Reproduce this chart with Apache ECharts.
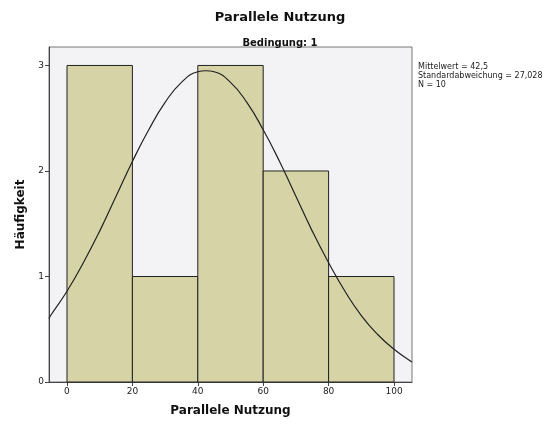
<!DOCTYPE html>
<html><head><meta charset="utf-8">
<script src="https://cdn.jsdelivr.net/npm/echarts@6/dist/echarts.min.js"></script>
<style>html,body{margin:0;padding:0;background:#fff}#c{width:553px;height:428px}</style>
</head><body><div id="c"></div>
<script>
// Histogram bins (lower, upper) and counts
const binStarts = [0, 20, 40, 60, 80];
const binEnds = [20, 40, 60, 80, 100];
const counts = [3, 1, 3, 2, 1];
// Fitted normal curve
const curveX = [-5.5, -5, 0, 5, 10, 15, 20, 25, 30, 35, 40, 42.5, 45, 50, 55, 60, 65, 70, 75, 80, 85, 90, 95, 100, 105, 105.5];
const curveY = [0.60, 0.63, 0.86, 1.13, 1.43, 1.76, 2.09, 2.39, 2.65, 2.84, 2.94, 2.95, 2.94, 2.84, 2.65, 2.39, 2.09, 1.76, 1.43, 1.13, 0.86, 0.63, 0.45, 0.31, 0.20, 0.19];
const xTicks = [0, 20, 40, 60, 80, 100];
const yTicks = [0, 1, 2, 3];
const stats = ['Mittelwert = 42,5', 'Standardabweichung = 27,028', 'N = 10'];

const chart = echarts.init(document.getElementById('c'));
const font = 'DejaVu Sans';
chart.setOption({
  backgroundColor: '#ffffff',
  animation: false,
  title: [
    {text: 'Parallele Nutzung', left: 275, top: 6, textAlign: 'center',
     textStyle: {fontFamily: font, fontSize: 13, fontWeight: 'bold', color: '#111'}},
    {text: 'Bedingung: 1', left: 275, top: 33, textAlign: 'center',
     textStyle: {fontFamily: font, fontSize: 10, fontWeight: 'bold', color: '#111'}}
  ],
  graphic: [{
    type: 'text', left: 418, top: 62,
    style: {text: stats.join('\n'), font: '8px ' + font, fill: '#222', lineHeight: 9}
  }],
  grid: {left: 49, top: 47, width: 363, height: 335, show: true,
    backgroundColor: '#f3f3f5', borderColor: '#777', borderWidth: 1},
  xAxis: {
    type: 'value', min: -5.5, max: 105.5,
    name: 'Parallele Nutzung', nameLocation: 'middle', nameGap: 23,
    nameTextStyle: {fontFamily: font, fontSize: 12, fontWeight: 'bold', color: '#111'},
    axisLine: {show: true, onZero: false, lineStyle: {color: '#444'}},
    axisTick: {show: true, length: 4, customValues: xTicks, lineStyle: {color: '#444'}},
    axisLabel: {customValues: xTicks, fontFamily: font, fontSize: 9, color: '#222', margin: 5},
    splitLine: {show: false}
  },
  yAxis: {
    type: 'value', min: 0, max: 3.175,
    name: 'Häufigkeit', nameLocation: 'middle', nameGap: 22,
    nameTextStyle: {fontFamily: font, fontSize: 12, fontWeight: 'bold', color: '#111'},
    axisLine: {show: true, onZero: false, lineStyle: {color: '#444'}},
    axisTick: {show: true, length: 4, customValues: yTicks, lineStyle: {color: '#444'}},
    axisLabel: {customValues: yTicks, fontFamily: font, fontSize: 9, color: '#222', margin: 5},
    splitLine: {show: false}
  },
  series: [
    {
      type: 'custom',
      data: counts.map((c, i) => [binStarts[i], binEnds[i], c]),
      encode: {x: [0, 1], y: 2},
      renderItem: function (params, api) {
        const p0 = api.coord([api.value(0), 0]);
        const p1 = api.coord([api.value(1), api.value(2)]);
        return {
          type: 'rect',
          shape: {x: p0[0], y: p1[1], width: p1[0] - p0[0], height: p0[1] - p1[1]},
          style: {fill: '#d6d3a7', stroke: '#222', lineWidth: 1}
        };
      },
      z: 2
    },
    {
      type: 'line', smooth: true, showSymbol: false, symbol: 'none',
      data: curveX.map((x, i) => [x, curveY[i]]),
      lineStyle: {color: '#222', width: 1.2},
      z: 3
    }
  ]
});
</script></body></html>
